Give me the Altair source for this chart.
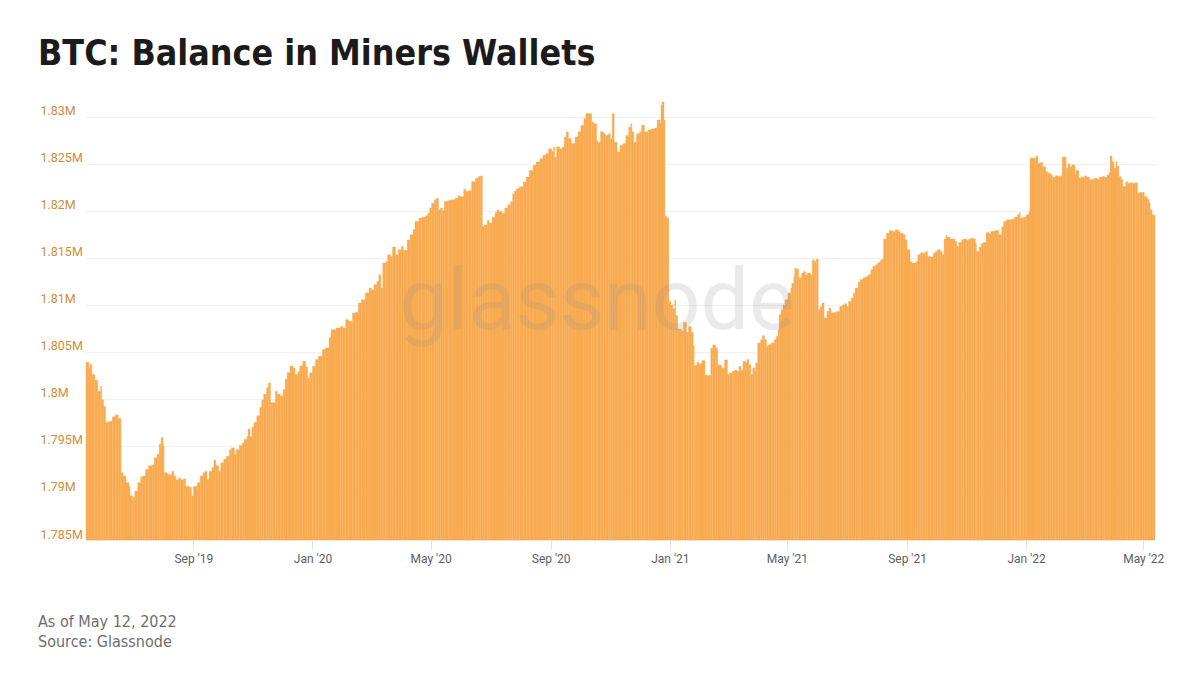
import altair as alt
import pandas as pd

# ---------------- data ----------------
title_text = "BTC: Balance in Miners Wallets"
footer_line1 = "As of May 12, 2022"
footer_line2 = "Source: Glassnode"
watermark = "glassnode"
start_date = "2019-05-14"
end_date = "2022-05-13"

# days after start_date at which a reading was taken
day_offset = [
    0, 3, 4, 6, 9, 12, 15, 16, 18, 20,
    23, 27, 30, 33, 35, 36, 38, 41, 44, 45,
    48, 50, 53, 56, 58, 61, 64, 68, 70, 73,
    75, 77, 79, 80, 83, 86, 88, 90, 92, 95,
    97, 100, 102, 104, 106, 108, 110, 114, 117, 120,
    122, 124, 126, 129, 131, 133, 136, 138, 141, 144,
    147, 149, 152, 154, 157, 160, 162, 165, 166, 168,
    170, 172, 175, 178, 180, 182, 185, 187, 189, 191,
    194, 196, 199, 202, 204, 206, 209, 212, 214, 217,
    219, 222,
    225, 227, 229, 232, 235, 238, 242, 245, 249, 251,
    256, 261, 263, 266, 269, 273, 276, 279, 282, 286,
    290, 292, 295, 298, 300, 302, 304, 307, 309, 312,
    314, 317, 320, 323, 325, 329, 332, 335, 337, 341,
    344, 348, 350, 352, 354, 357, 359, 361, 363, 365,
    367, 371, 374, 378, 381, 383, 387, 389, 392, 395,
    399, 402, 404, 406, 408, 411, 413, 416, 419, 421,
    423, 426, 429, 432, 435, 437, 439,
    441, 444, 448, 451, 454, 458, 461, 465, 468, 471,
    474, 477, 479, 480, 482, 485, 488, 490, 492, 494,
    497, 501, 504, 507, 510, 512, 515, 518, 520, 523,
    524, 527, 530, 532, 535, 537, 539, 541, 544, 547,
    550, 553, 556, 558, 559, 561, 564, 567, 569, 572,
    576, 579, 582, 585, 588, 589, 590, 591, 592, 593,
    595, 597, 599, 601, 603, 604, 606, 610, 612, 615,
    617, 620, 622, 623, 626, 628, 631, 634, 637, 640,
    642, 645, 647, 651, 654, 657, 659, 662,
    664, 667, 669, 671, 673, 676, 677, 679, 681, 683,
    685, 686, 688, 691, 693, 695, 697, 699, 702, 705,
    707, 709, 710, 712, 714, 716, 719, 722, 723, 725,
    726, 728, 730, 733, 735, 737, 739, 742, 744, 746,
    748, 750, 752, 754, 756, 759, 761, 763, 766, 769,
    772, 775, 777, 779, 781, 784, 786, 788, 791, 793,
    796, 798, 801, 804, 806, 809, 811, 814, 816, 817,
    820, 823, 826, 829, 832, 834, 837, 839, 841, 844,
    846, 850, 852, 855, 857, 860, 862, 865, 868, 870,
    872, 875, 877, 879, 881,
    882, 885, 887, 890, 892, 894, 897, 899, 902, 904,
    907, 909, 911, 912, 915, 917, 919, 922, 925, 927,
    931, 933, 935, 938, 940, 943, 948, 951, 954, 956,
    957, 960, 963, 966, 967, 970, 973, 975, 978, 980,
    983, 985, 988, 990, 993, 996, 998, 1000, 1003, 1004,
    1006, 1008, 1010, 1013, 1014, 1017, 1019, 1023, 1025, 1028,
    1031, 1033, 1036, 1038, 1041, 1043, 1046, 1048, 1049, 1051,
    1053, 1055, 1056, 1058, 1060, 1062, 1065, 1067, 1070, 1072,
    1075, 1077, 1079, 1082, 1084, 1087, 1089, 1090, 1092, 1094,
]

# balance in thousands of BTC
balance_k = [
    1803.9, 1803.2, 1803.65, 1802.6, 1802.0, 1800.8, 1801.35, 1799.9, 1799.2, 1797.5,
    1797.6, 1798.1, 1798.3, 1797.9, 1797.9, 1792.15, 1791.8, 1791.1, 1790.7, 1789.7,
    1789.5, 1790.2, 1791.1, 1791.7, 1791.8, 1792.5, 1792.9, 1793.0, 1793.75, 1794.1,
    1795.2, 1795.9, 1795.0, 1792.15, 1792.0, 1791.9, 1792.3, 1791.8, 1791.4, 1791.6,
    1791.4, 1791.5, 1790.7, 1790.7, 1790.6, 1789.7, 1790.7, 1791.1, 1791.8, 1792.15,
    1792.3, 1791.4, 1792.3, 1792.7, 1793.5, 1792.9, 1792.3, 1793.2, 1793.6, 1793.9,
    1794.6, 1794.8, 1794.1, 1794.6, 1795.05, 1795.3, 1795.7, 1796.0, 1796.8, 1796.0,
    1797.0, 1797.5, 1798.2, 1799.1, 1799.9, 1800.5, 1801.2, 1801.7, 1799.6, 1799.6,
    1800.8, 1800.5, 1800.3, 1801.0, 1802.1, 1802.8, 1803.5, 1803.3, 1802.6, 1802.9,
    1803.5, 1804.0,
    1803.4, 1802.2, 1802.77, 1803.47, 1804.18, 1804.53, 1805.24, 1805.42, 1806.5, 1807.37,
    1807.55, 1807.72, 1807.55, 1808.43, 1808.25, 1809.14, 1809.2, 1810.2, 1810.55, 1811.26,
    1811.8, 1811.6, 1812.14, 1812.5, 1813.2, 1811.8, 1814.45, 1814.6, 1815.33, 1815.15,
    1816.15, 1815.33, 1815.86, 1816.2, 1815.8, 1816.9, 1817.45, 1818.0, 1818.86, 1819.2,
    1819.33, 1819.47, 1819.75, 1820.3, 1820.8, 1821.17, 1821.35, 1820.1, 1820.3, 1820.0,
    1821.0, 1821.1, 1821.17, 1821.35, 1821.6, 1821.5, 1822.3, 1822.05, 1822.15, 1823.1,
    1823.47, 1823.64, 1823.7, 1818.33, 1818.5, 1818.97, 1818.7, 1819.33, 1819.82, 1820.1,
    1819.93, 1819.75, 1820.3, 1820.64, 1821.0, 1821.8, 1822.1,
    1822.36, 1822.55, 1823.08, 1823.6, 1824.3, 1824.85, 1825.2, 1825.55, 1825.9, 1826.1,
    1826.6, 1826.3, 1826.8, 1825.7, 1826.8, 1826.6, 1826.8, 1827.86, 1828.4, 1827.7,
    1827.15, 1827.86, 1828.4, 1829.1, 1829.8, 1830.34, 1830.34, 1829.45, 1829.27, 1827.5,
    1827.3, 1828.4, 1828.2, 1828.0, 1828.2, 1827.68, 1830.34, 1827.3, 1826.26, 1826.96,
    1827.15, 1828.0, 1828.9, 1829.27, 1828.4, 1827.3, 1828.2, 1828.4, 1829.1, 1828.4,
    1828.6, 1828.7, 1828.8, 1829.66, 1829.27, 1831.2, 1831.57, 1831.57, 1829.66, 1819.4,
    1819.2, 1810.34, 1810.0, 1809.6, 1810.5, 1808.85, 1807.44, 1807.26, 1808.14, 1807.08,
    1807.7, 1807.08, 1805.67, 1803.55, 1803.9, 1803.73, 1804.08, 1802.5, 1802.5, 1805.4,
    1805.74, 1805.4, 1803.6, 1803.26, 1804.15, 1802.6, 1802.77, 1802.94,
    1803.05, 1802.94, 1803.47, 1803.05, 1804.0, 1803.83, 1804.18, 1803.65, 1802.6, 1803.3,
    1802.94, 1803.83, 1805.95, 1806.3, 1806.73, 1806.3, 1805.6, 1805.77, 1805.95, 1806.3,
    1806.66, 1807.37, 1808.96, 1809.5, 1810.0, 1810.55, 1811.26, 1811.8, 1812.3, 1813.0,
    1813.9, 1813.8, 1812.85, 1813.4, 1813.56, 1813.2, 1813.4, 1813.2, 1814.8, 1814.6,
    1814.87, 1809.5, 1809.8, 1810.2, 1808.6, 1809.3, 1809.66, 1809.14, 1809.2, 1809.3,
    1809.84, 1810.0, 1810.13, 1809.84, 1810.37, 1810.73, 1811.26, 1811.8, 1812.4, 1812.7,
    1812.85, 1812.97, 1813.2, 1813.74, 1814.1, 1814.27, 1814.5, 1814.8, 1814.87, 1817.0,
    1817.63, 1817.9, 1817.8, 1817.98, 1817.8, 1817.63, 1817.45, 1816.92, 1815.86, 1814.6,
    1814.45, 1814.6, 1815.33, 1815.57, 1815.5, 1815.68, 1815.15, 1815.1, 1815.5, 1815.68,
    1815.86, 1815.68, 1815.33, 1817.0, 1817.4,
    1817.2, 1817.0, 1817.0, 1816.75, 1816.2, 1816.64, 1816.92, 1817.0, 1816.85, 1817.0,
    1817.1, 1817.0, 1816.5, 1815.68, 1816.15, 1816.5, 1816.64, 1817.7, 1817.56, 1817.8,
    1817.9, 1817.9, 1817.45, 1818.27, 1818.87, 1819.05, 1819.1, 1819.33, 1819.58, 1819.82,
    1819.2, 1819.33, 1819.58, 1819.93, 1825.6, 1825.6, 1825.84, 1825.06, 1825.13, 1824.7,
    1824.17, 1824.0, 1823.82, 1823.58, 1823.72, 1823.64, 1823.72, 1825.7, 1825.7, 1824.53,
    1825.0, 1824.7, 1824.88, 1823.93, 1824.28, 1823.47, 1823.58, 1823.72, 1823.58, 1823.3,
    1823.37, 1823.47, 1823.37, 1823.58, 1823.64, 1823.58, 1823.82, 1824.0, 1825.84, 1825.23,
    1824.53, 1825.23, 1824.78, 1823.64, 1823.37, 1822.58, 1823.1, 1822.94, 1823.0, 1822.94,
    1823.0, 1821.88, 1821.94, 1821.94, 1821.52, 1821.24, 1820.82, 1820.1, 1819.58, 1819.47,
]

y_ticks_k = [1785, 1790, 1795, 1800, 1805, 1810, 1815, 1820, 1825, 1830]
x_tick_dates = [(2019, 9), (2020, 1), (2020, 5), (2020, 9), (2021, 1),
                (2021, 5), (2021, 9), (2022, 1), (2022, 5)]

assert len(day_offset) == len(balance_k), (len(day_offset), len(balance_k))

# ---------------- table ----------------
start = pd.Timestamp(start_date)
dates = start + pd.to_timedelta(day_offset, unit="D")
ends = list(dates[1:]) + [dates[-1] + pd.Timedelta(days=1)]
df = pd.DataFrame({
    "date": [d.strftime("%Y-%m-%d") for d in dates],
    "date_end": [d.strftime("%Y-%m-%d") for d in ends],
    "balance": balance_k,
})

W, H = 1069, 442
ORANGE = "#F8AB52"
TITLE_FONT = "DejaVu Sans Condensed, sans-serif"

x_enc = alt.X(
    "date:T",
    title=None,
    scale=alt.Scale(
        type="utc",
        domain=[alt.DateTime(year=2019, month=5, date=14, utc=True),
                alt.DateTime(year=2022, month=5, date=13, utc=True)],
    ),
    axis=alt.Axis(
        values=[alt.DateTime(year=y, month=m, date=1, utc=True) for y, m in x_tick_dates],
        format="%b '%y",
        labelColor="#5b5e63",
        labelFont="Roboto",
        labelFontSize=12,
        labelPadding=3,
        tickColor="#e3e3e3",
        tickSize=10,
        domain=False,
        grid=False,
    ),
)

y_enc = alt.Y(
    "balance:Q",
    title=None,
    scale=alt.Scale(domain=[1785, 1832], nice=False, zero=False),
    axis=alt.Axis(
        values=y_ticks_k,
        labelExpr="format(datum.value / 1000, '.4~r') + 'M'",
        labelAlign="left",
        labelBaseline="alphabetic",
        labelOffset=-2,
        labelPadding=46,
        labelColor="#D28C38",
        labelFont="Roboto",
        labelFontSize=12.5,
        ticks=False,
        tickSize=0,
        domain=False,
        grid=True,
        gridColor="#f1f1f1",
        gridWidth=1,
    ),
)

bars = alt.Chart(df).mark_bar(color=ORANGE, stroke=ORANGE, strokeWidth=0.4).encode(
    x=x_enc,
    x2="date_end:T",
    y=y_enc,
    y2=alt.datum(1785),
)

wm = alt.Chart(pd.DataFrame({"w": [watermark]})).mark_text(
    font="Roboto", fontSize=86, color="#8a8a8a", opacity=0.17,
    align="center", baseline="middle",
).encode(text="w:N", x=alt.value(511), y=alt.value(205))

foot1 = alt.Chart(pd.DataFrame({"t": [footer_line1]})).mark_text(
    font=TITLE_FONT, fontSize=16, color="#6e6e6e", align="left", baseline="middle",
).encode(text="t:N", x=alt.value(-48), y=alt.value(H + 82))

foot2 = alt.Chart(pd.DataFrame({"t": [footer_line2]})).mark_text(
    font=TITLE_FONT, fontSize=16, color="#6e6e6e", align="left", baseline="middle",
).encode(text="t:N", x=alt.value(-48), y=alt.value(H + 102))

chart = alt.layer(bars, wm, foot1, foot2).properties(
    width=W,
    height=H,
    autosize="none",
    padding={"left": 86, "top": 98, "right": 45, "bottom": 136},
    view=alt.ViewBackground(stroke="transparent", strokeWidth=0),
    title=alt.TitleParams(
        text=title_text,
        anchor="start",
        frame="group",
        dx=-48,
        dy=40,
        offset=38,
        baseline="alphabetic",
        font=TITLE_FONT,
        fontSize=35.5,
        fontWeight="bold",
        color="#1b1b1b",
    ),
).configure_view(stroke="transparent", strokeWidth=0).configure(background="white")

chart.save("out.html", embed_options={"renderer": "svg", "actions": False})
